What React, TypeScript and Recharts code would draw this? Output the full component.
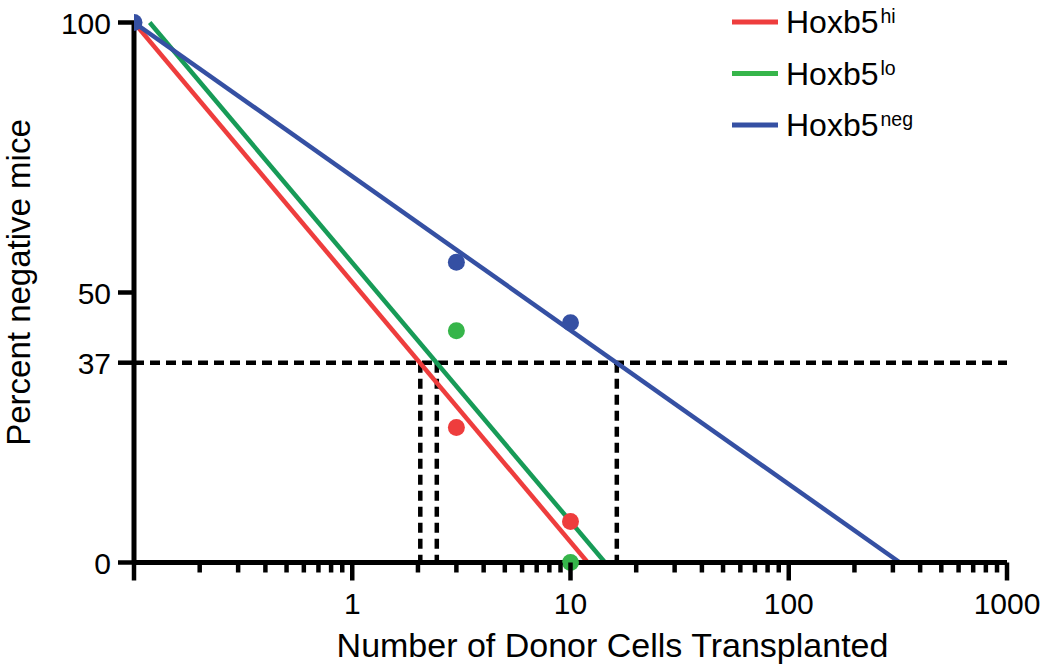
import React from "react"
import { ComposedChart, Line, Scatter, XAxis, YAxis, ReferenceLine, Legend } from "recharts"

// x axis (log): every tick, which ones are long, which ones carry a label
const xTicks = [
  0.1, 0.2, 0.3, 0.4, 0.5, 0.6, 0.7, 0.8, 0.9,
  1, 2, 3, 4, 5, 6, 7, 8, 9,
  10, 20, 30, 40, 50, 60, 70, 80, 90,
  100, 200, 300, 400, 500, 600, 700, 800, 900,
  1000,
]
const xMajor = [0.1, 1, 10, 100, 1000]
const xLabeled = [1, 10, 100, 1000]
const yTicks = [0, 37, 50, 100]

// fitted lines (straight on the semi-log plot)
const hiFit = [
  { x: 0.1, y: 100 },
  { x: 12.0, y: 0 },
]
const loFit = [
  { x: 0.118, y: 100 },
  { x: 14.4, y: 0 },
]
const negFit = [
  { x: 0.1, y: 100 },
  { x: 323, y: 0 },
]

// observed points
const hiPoints = [
  { x: 3, y: 25 },
  { x: 10, y: 7.6 },
]
const loPoints = [
  { x: 3, y: 42.9 },
  { x: 10, y: 0 },
]
const negPoints = [
  { x: 0.1, y: 100 },
  { x: 3, y: 55.6 },
  { x: 10, y: 44.4 },
]

// 37% cut-off and where each fit crosses it
const cutoff = 37
const crossings = [2.05, 2.44, 16.3]

const RED = "#ee3d3d"
const GREEN_LINE = "#179b57"
const GREEN_DOT = "#36b54a"
const BLUE = "#3550a3"
const FONT = "'Liberation Sans', Arial, Helvetica, sans-serif"

const legendItems = [
  { name: "Hoxb5", sup: "hi", color: RED },
  { name: "Hoxb5", sup: "lo", color: GREEN_DOT },
  { name: "Hoxb5", sup: "neg", color: BLUE },
]

function XTick(props: any) {
  const { x, y, payload } = props
  const v = payload.value
  const major = xMajor.some((m) => Math.abs(m - v) < 1e-9)
  const labeled = xLabeled.some((m) => Math.abs(m - v) < 1e-9)
  return (
    <g>
      <line x1={x} x2={x} y1={y} y2={y + (major ? 18 : 10)} stroke="#000" strokeWidth={4.5} />
      {labeled && (
        <text x={x} y={y + 51} textAnchor="middle" fontSize={30} fontFamily={FONT} fill="#000">
          {v}
        </text>
      )}
    </g>
  )
}

function YTick(props: any) {
  const { x, y, payload } = props
  return (
    <g>
      <line x1={x - 16} x2={x} y1={y} y2={y} stroke="#000" strokeWidth={4.5} />
      <text x={x - 23} y={y + 11} textAnchor="end" fontSize={30} fontFamily={FONT} fill="#000">
        {payload.value}
      </text>
    </g>
  )
}

function XTitle(props: any) {
  const vb = props.viewBox ?? { x: 134, y: 562.5, width: 873, height: 100 }
  return (
    <text x={vb.x + vb.width / 2 + 42} y={vb.y + 94} textAnchor="middle" fontSize={34} fontFamily={FONT} fill="#000">
      Number of Donor Cells Transplanted
    </text>
  )
}

function YTitle(props: any) {
  const vb = props.viewBox ?? { x: 34, y: 22.5, width: 100, height: 540 }
  const cx = vb.x - 4
  const cy = vb.y + vb.height / 2 - 10
  return (
    <text
      x={cx}
      y={cy}
      transform={`rotate(-90 ${cx} ${cy})`}
      textAnchor="middle"
      fontSize={33}
      fontFamily={FONT}
      fill="#000"
    >
      Percent negative mice
    </text>
  )
}

function LegendBox() {
  return (
    <svg width={1050} height={170} style={{ position: "absolute", left: 0, top: 0, overflow: "visible" }}>
      {legendItems.map((item, i) => {
        const cy = 22 + i * 51.5
        return (
          <g key={item.sup}>
            <line x1={732} x2={778} y1={cy} y2={cy} stroke={item.color} strokeWidth={5} />
            <text x={786} y={cy + 11} fontSize={32} fontFamily={FONT} fill="#000">
              {item.name}
              <tspan fontSize={19.5} dx={2} dy={-10}>
                {item.sup}
              </tspan>
            </text>
          </g>
        )
      })}
    </svg>
  )
}

const dot = (color: string) => (p: any) => <circle cx={p.cx} cy={p.cy} r={8.5} fill={color} />

export default function App() {
  return (
    <div style={{ position: "absolute", left: 0, top: 0, width: 1050, height: 670, background: "#fff" }}>
      <ComposedChart width={1050} height={670} margin={{ top: 22.5, right: 43, bottom: 7.5, left: 34 }}>
        <XAxis
          dataKey="x"
          type="number"
          scale="log"
          domain={[0.1, 1000]}
          allowDataOverflow
          ticks={xTicks}
          interval={0}
          tickSize={0}
          tickMargin={0}
          tickLine={false}
          tick={<XTick />}
          axisLine={{ stroke: "#000", strokeWidth: 5 }}
          height={100}
          label={XTitle}
        />
        <YAxis
          dataKey="y"
          type="number"
          domain={[0, 100]}
          ticks={yTicks}
          interval={0}
          tickSize={0}
          tickMargin={0}
          tickLine={false}
          tick={<YTick />}
          axisLine={{ stroke: "#000", strokeWidth: 5 }}
          width={100}
          label={YTitle}
        />
        <ReferenceLine
          segment={[
            { x: xMajor[0], y: cutoff },
            { x: xMajor[xMajor.length - 1], y: cutoff },
          ]}
          stroke="#000"
          strokeWidth={4.5}
          strokeDasharray="10 6"
          ifOverflow="visible"
        />
        {crossings.map((c) => (
          <ReferenceLine
            key={c}
            segment={[
              { x: c, y: cutoff },
              { x: c, y: 0 },
            ]}
            stroke="#000"
            strokeWidth={4.5}
            strokeDasharray="10 6"
            ifOverflow="visible"
          />
        ))}
        <Line data={hiFit} dataKey="y" type="linear" stroke={RED} strokeWidth={4.5} dot={false} isAnimationActive={false} />
        <Scatter data={hiPoints} dataKey="y" shape={dot(RED)} isAnimationActive={false} />
        <Line data={loFit} dataKey="y" type="linear" stroke={GREEN_LINE} strokeWidth={4.5} dot={false} isAnimationActive={false} />
        <Scatter data={loPoints} dataKey="y" shape={dot(GREEN_DOT)} isAnimationActive={false} />
        <Line data={negFit} dataKey="y" type="linear" stroke={BLUE} strokeWidth={4.5} dot={false} isAnimationActive={false} />
        <Scatter data={negPoints} dataKey="y" shape={dot(BLUE)} isAnimationActive={false} />
        <Legend
          layout="vertical"
          align="center"
          verticalAlign="middle"
          content={() => <LegendBox />}
          wrapperStyle={{ position: "absolute", left: 0, top: 0, width: 1050, height: 170 }}
        />
      </ComposedChart>
    </div>
  )
}
